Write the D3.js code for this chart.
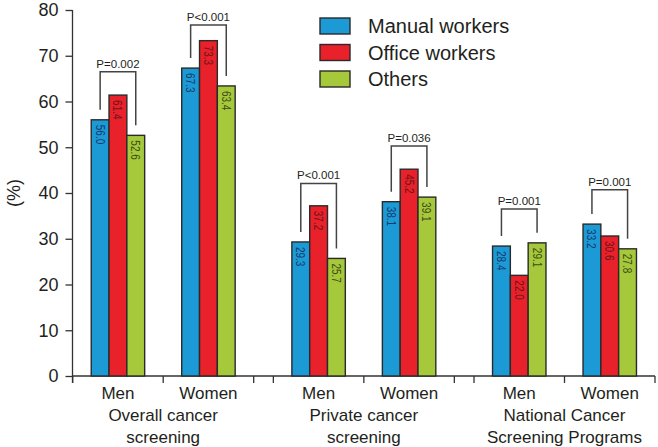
<!DOCTYPE html>
<html>
<head>
<meta charset="utf-8">
<script src="https://cdn.jsdelivr.net/npm/d3@7"></script>
<style>
  html, body { margin: 0; padding: 0; background: #fff; }
  svg { display: block; font-family: "Liberation Sans", Arial, Helvetica, sans-serif; }
</style>
</head>
<body>
<svg id="chart" width="658" height="447"></svg>
<script>
// ---------- data ----------
const groups = ["Overall cancer screening", "Private cancer screening", "National Cancer Screening Programs"];
const groupLines = [["Overall cancer", "screening"], ["Private cancer", "screening"], ["National Cancer", "Screening Programs"]];
const sexes = ["Men", "Women"];
const series = ["Manual workers", "Office workers", "Others"];
const manualWorkers = [56.0, 67.3, 29.3, 38.1, 28.4, 33.2];
const officeWorkers = [61.4, 73.3, 37.2, 45.2, 22.0, 30.6];
const others = [52.6, 63.4, 25.7, 39.1, 29.1, 27.8];
const pLabels = ["P=0.002", "P<0.001", "P<0.001", "P=0.036", "P=0.001", "P=0.001"];
const bracketTops = [66.5, 76.7, 42.1, 50.3, 36.5, 40.7];
const yTicks = [0, 10, 20, 30, 40, 50, 60, 70, 80];

// ---------- styles ----------
const colors = ["#1b9ad6", "#e8212b", "#a6c93b"];
const labelColors = ["#173a6e", "#6e1418", "#3f4c17"];
const textColor = "#231f20";

const svg = d3.select("#chart");
const seriesValues = [manualWorkers, officeWorkers, others];

const y = d3.scaleLinear().domain([0, 80]).range([376, 10]);
const xGroup = d3.scaleBand().domain(groups).range([72.7, 655]).paddingInner(0.098).paddingOuter(0);
const xSex = d3.scaleBand().domain(sexes).range([0, xGroup.bandwidth()]).padding(0);
const xSeries = d3.scaleBand().domain(series).range([0, xSex.bandwidth()]).paddingInner(0).paddingOuter(1.04);

// rows
const rows = [];
groups.forEach((g, gi) => sexes.forEach((s, si) => {
  const idx = gi * 2 + si;
  rows.push({ g, s, idx, values: series.map((k, ki) => ({ key: k, ki, v: seriesValues[ki][idx] })) });
}));

// y axis
const yAxis = d3.axisLeft(y).tickValues(yTicks).tickSize(7).tickSizeOuter(0).tickPadding(7);
const yg = svg.append("g").attr("transform", "translate(72.5,0)").call(yAxis);
yg.select(".domain").attr("stroke", "#333").attr("stroke-width", 1.3).attr("d", "M0,10V383");
yg.selectAll(".tick line").attr("stroke", "#333").attr("stroke-width", 1.3);
yg.selectAll(".tick text").attr("fill", textColor).style("font-size", "18px").style("font-family", "Liberation Sans, Arial, sans-serif");

svg.append("text").attr("transform", "translate(20,193) rotate(-90)")
  .attr("text-anchor", "middle").attr("fill", textColor).style("font-size", "18px").text("(%)");

// x axis line & ticks
const xa = svg.append("g");
xa.append("line").attr("x1", 72.5).attr("x2", xGroup.range()[1]).attr("y1", y(0)).attr("y2", y(0))
  .attr("stroke", "#333").attr("stroke-width", 1.3);
const tickXs = [];
groups.forEach(g => {
  const x0 = xGroup(g);
  tickXs.push(x0, x0 + xSex("Women"), x0 + xGroup.bandwidth());
});
xa.selectAll("line.tk").data(tickXs).join("line").attr("class", "tk")
  .attr("x1", d => d).attr("x2", d => d).attr("y1", y(0)).attr("y2", y(0) + 7)
  .attr("stroke", "#333").attr("stroke-width", 1.3);

// x labels
groups.forEach((g, gi) => {
  sexes.forEach(s => {
    svg.append("text").attr("x", xGroup(g) + xSex(s) + xSex.bandwidth() / 2).attr("y", 399)
      .attr("text-anchor", "middle").attr("fill", textColor).style("font-size", "17px").text(s);
  });
  groupLines[gi].forEach((ln, li) => {
    svg.append("text").attr("x", xGroup(g) + xGroup.bandwidth() / 2).attr("y", 421 + li * 22)
      .attr("text-anchor", "middle").attr("fill", textColor).style("font-size", "17px").text(ln);
  });
});

// bars
const rg = svg.selectAll("g.row").data(rows).join("g").attr("class", "row")
  .attr("transform", d => `translate(${xGroup(d.g) + xSex(d.s)},0)`);
rg.selectAll("rect").data(d => d.values).join("rect")
  .attr("x", d => xSeries(d.key)).attr("width", xSeries.bandwidth())
  .attr("y", d => y(d.v)).attr("height", d => y(0) - y(d.v))
  .attr("fill", d => colors[d.ki]).attr("stroke", "#2a2a2a").attr("stroke-width", 1.4);
rg.selectAll("text.val").data(d => d.values).join("text").attr("class", "val")
  .attr("transform", d => `translate(${xSeries(d.key) + xSeries.bandwidth() / 2},${y(d.v) + 5}) rotate(90) scale(0.8,1)`)
  .attr("dy", "0.36em").attr("text-anchor", "start")
  .attr("fill", d => labelColors[d.ki]).style("font-size", "12.5px")
  .text(d => d3.format(".1f")(d.v));

// brackets
rows.forEach(r => {
  const x0 = xGroup(r.g) + xSex(r.s);
  const a = r.values[0], c = r.values[2];
  const xl = x0 + xSeries(a.key) + xSeries.bandwidth() / 2;
  const xr = x0 + xSeries(c.key) + xSeries.bandwidth() / 2;
  const top = y(bracketTops[r.idx]);
  svg.append("path")
    .attr("d", `M${xl},${y(a.v) - 10}V${top}H${xr}V${y(c.v) - 10}`)
    .attr("fill", "none").attr("stroke", "#444").attr("stroke-width", 1.5);
  svg.append("text").attr("x", (xl + xr) / 2).attr("y", top - 4)
    .attr("text-anchor", "middle").attr("fill", textColor).style("font-size", "11.5px")
    .text(pLabels[r.idx]);
});

// legend
const lg = svg.append("g").attr("transform", "translate(320,18)");
series.forEach((s, i) => {
  lg.append("rect").attr("x", 0).attr("y", i * 26.5).attr("width", 30).attr("height", 16)
    .attr("fill", colors[i]).attr("stroke", "#2a2a2a").attr("stroke-width", 1.4);
  lg.append("text").attr("x", 48).attr("y", i * 26.5 + 8).attr("dy", "0.36em")
    .attr("fill", textColor).style("font-size", "20px").text(s);
});
</script>
</body>
</html>
